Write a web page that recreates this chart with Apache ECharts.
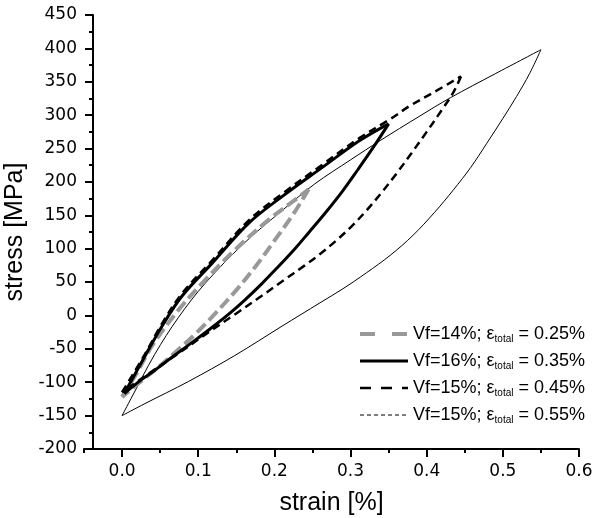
<!DOCTYPE html>
<html>
<head>
<meta charset="utf-8">
<script src="https://cdn.jsdelivr.net/npm/echarts@6/dist/echarts.min.js"></script>
<style>
  html, body { margin: 0; padding: 0; background: #fff; }
  #chart { width: 595px; height: 518px; }
</style>
</head>
<body>
<div id="chart"></div>
<script>
// legend text parts
const vf = ["14%", "16%", "15%", "15%"];
const epsTotal = ["0.25%", "0.35%", "0.45%", "0.55%"];
const names = vf.map((v, i) => "Vf=" + v + "; εtotal = " + epsTotal[i]);

// x axis ticks
const majorX = [0, 0.1, 0.2, 0.3, 0.4, 0.5, 0.6];
const minorX = [-0.05, 0.05, 0.15, 0.25, 0.35, 0.45, 0.55];

// Vf=14%, 0.25%  (loading branch, then unloading branch)
const loadStrain1 = [0, 0.02, 0.039, 0.074, 0.109, 0.148, 0.192, 0.227, 0.245];
const loadStress1 = [-122, -85, -46, 8, 53, 98, 143, 173, 189];
const unloadStrain1 = [0.245, 0.225, 0.2, 0.175, 0.15, 0.12, 0.096, 0.07, 0.045, 0.02, 0];
const unloadStress1 = [189, 152, 112, 73, 38, 0, -28, -55, -80, -103, -122];

// Vf=16%, 0.35%
const loadStrain2 = [0.003, 0.03, 0.052, 0.078, 0.118, 0.166, 0.21, 0.262, 0.312, 0.35];
const loadStress2 = [-117, -61, -17, 28, 78, 138, 178, 221, 262, 287];
const unloadStrain2 = [0.35, 0.33, 0.31, 0.29, 0.2665, 0.245, 0.227, 0.205, 0.183, 0.16, 0.14, 0.118, 0.096, 0.065, 0.043, 0.02, 0.003];
const unloadStress2 = [287, 252, 219, 187, 153, 124, 100, 73, 47, 22, 2, -18, -37, -63, -82, -101, -117];

// Vf=15%, 0.45%
const loadStrain3 = [0, 0.03, 0.052, 0.078, 0.118, 0.166, 0.21, 0.262, 0.312, 0.352, 0.378, 0.409, 0.445];
const loadStress3 = [-115, -58, -13, 32, 82, 142, 182, 225, 266, 294, 314, 334, 358];
const unloadStrain3 = [0.445, 0.435, 0.42, 0.4, 0.38, 0.36, 0.34, 0.32, 0.3, 0.28, 0.26, 0.24, 0.21, 0.183, 0.15, 0.11, 0.07, 0.03, 0];
const unloadStress3 = [358, 334, 308, 275, 243, 212, 183, 156, 132, 111, 92, 75, 51, 29, 3, -28, -60, -91, -115];

// Vf=15%, 0.55%
const loadStrain4 = [0, 0.012, 0.043, 0.074, 0.109, 0.16, 0.21, 0.253, 0.3, 0.339, 0.39, 0.431, 0.49, 0.55];
const loadStress4 = [-150, -124, -58, -3, 48, 108, 157, 197, 233, 262, 298, 326, 362, 398];
const unloadStrain4 = [0.55, 0.535, 0.518, 0.5, 0.479, 0.458, 0.435, 0.41, 0.382, 0.352, 0.321, 0.29, 0.26, 0.21, 0.148, 0.087, 0.03, 0];
const unloadStress4 = [398, 362, 328, 295, 258, 222, 188, 154, 120, 90, 64, 40, 19, -16, -60, -99, -132, -150];

const loops = [
  [loadStrain1, loadStress1, unloadStrain1, unloadStress1],
  [loadStrain2, loadStress2, unloadStrain2, unloadStress2],
  [loadStrain3, loadStress3, unloadStrain3, unloadStress3],
  [loadStrain4, loadStress4, unloadStrain4, unloadStress4],
];

const lineStyles = [
  { color: "#999999", width: 4, type: [12, 5] },
  { color: "#000000", width: 3, type: "solid" },
  { color: "#000000", width: 2.5, type: [8, 5] },
  { color: "#000000", width: 1, type: "solid" },
];
const legendStyles = [
  { color: "#999999", width: 4, type: [15, 17] },
  { color: "#000000", width: 3, type: "solid" },
  { color: "#000000", width: 2.5, type: [11, 10] },
  { color: "#000000", width: 1, type: [4, 3] },
];
const zOrder = [3, 5, 4, 2];

const zip = (xs, ys) => xs.map((x, i) => [x, ys[i]]);

const series = [];
loops.forEach((loop, i) => {
  [0, 2].forEach((k) => {
    series.push({
      name: names[i],
      type: "line",
      data: zip(loop[k], loop[k + 1]),
      symbol: "none",
      smooth: 0.35,
      color: lineStyles[i].color,
      lineStyle: lineStyles[i],
      z: zOrder[i],
    });
  });
});

const tickFont = { fontFamily: "DejaVu Sans", fontSize: 17, color: "#000" };
const titleFont = { fontFamily: "Liberation Sans", fontSize: 25, color: "#000" };

let chart = echarts.init(document.getElementById("chart"));
chart.setOption({
  animation: false,
  backgroundColor: "#fff",
  grid: { left: 84, right: 16, top: 15, bottom: 69, containLabel: false, outerBoundsMode: "none" },
  xAxis: [
    {
      type: "value",
      min: -0.05,
      max: 0.6,
      position: "bottom",
      name: "strain [%]",
      nameLocation: "middle",
      nameGap: 42,
      nameTextStyle: titleFont,
      axisLine: { onZero: false, lineStyle: { color: "#000", width: 2 } },
      axisTick: { customValues: majorX, length: 8, lineStyle: { color: "#000", width: 2 } },
      axisLabel: Object.assign({ customValues: majorX, margin: 14, formatter: (v) => v.toFixed(1) }, tickFont),
      splitLine: { show: false },
    },
    {
      type: "value",
      min: -0.05,
      max: 0.6,
      position: "bottom",
      axisLine: { show: false, onZero: false },
      axisTick: { customValues: minorX, length: 4, lineStyle: { color: "#000", width: 2 } },
      axisLabel: { show: false },
      splitLine: { show: false },
    },
  ],
  yAxis: {
    type: "value",
    min: -200,
    max: 450,
    interval: 50,
    offset: -9,
    name: "stress [MPa]",
    nameLocation: "middle",
    nameGap: 51,
    nameTextStyle: titleFont,
    axisLine: { show: true, onZero: false, lineStyle: { color: "#000", width: 2 } },
    axisTick: { show: true, length: 8, lineStyle: { color: "#000", width: 2 } },
    minorTick: { show: true, splitNumber: 2, length: 4, lineStyle: { color: "#000", width: 2 } },
    axisLabel: Object.assign({ margin: 16 }, tickFont),
    splitLine: { show: false },
  },
  legend: {
    orient: "vertical",
    left: 353,
    top: 320,
    itemWidth: 48,
    itemHeight: 14,
    itemGap: 8,
    itemStyle: { opacity: 0 },
    data: names.map((n, i) => ({ name: n, lineStyle: legendStyles[i], itemStyle: { opacity: 0 } })),
    formatter: (name) => {
      const i = names.indexOf(name);
      return "{t|Vf=" + vf[i] + "; ε}{s|total}{t| = " + epsTotal[i] + "}";
    },
    textStyle: {
      fontFamily: "Liberation Sans",
      fontSize: 18,
      color: "#000",
      rich: {
        t: { fontFamily: "Liberation Sans", fontSize: 18, color: "#000", lineHeight: 20 },
        s: { fontFamily: "Liberation Sans", fontSize: 10, color: "#000", lineHeight: 10, verticalAlign: "bottom" },
      },
    },
  },
  series: series,
});
</script>
</body>
</html>
